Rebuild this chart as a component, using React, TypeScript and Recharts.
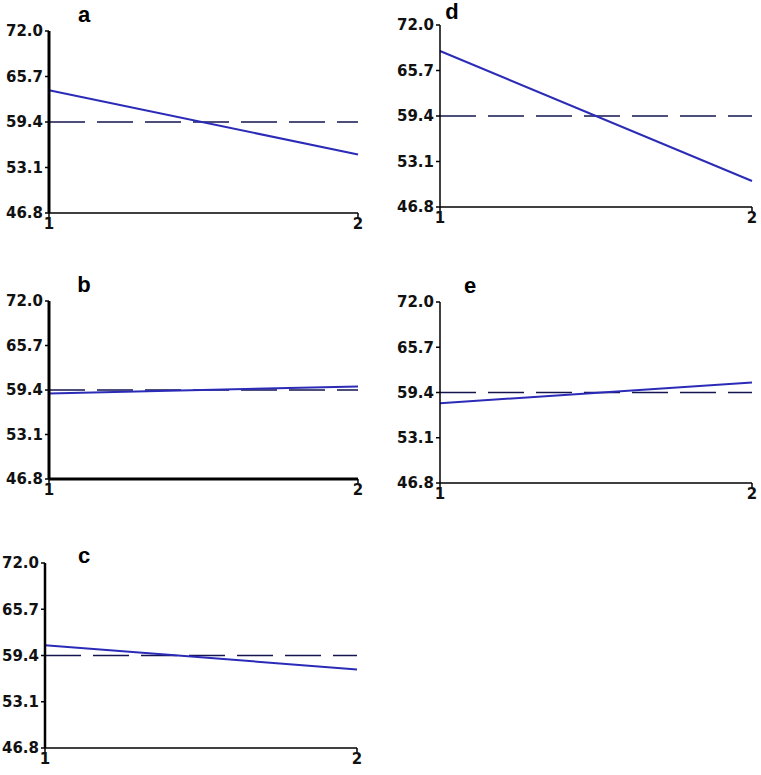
import React from 'react';
import {
  LineChart,
  Line,
  XAxis,
  YAxis,
  ReferenceLine,
} from 'recharts';

// panel data: value at time point 1 and time point 2
const panelLabels = ['a', 'b', 'c', 'd', 'e'];
const startValues = [63.8, 58.9, 60.8, 68.4, 57.9];
const endValues = [54.9, 59.9, 57.5, 50.4, 60.8];
const timePoints = [1, 2];
const yTicks = [46.8, 53.1, 59.4, 65.7, 72.0];
const referenceValue = 59.4;

// plot boxes: [left, top, width, height, yAxisStroke, xAxisStroke]
const layout: Record<string, number[]> = {
  a: [49, 31, 309, 182, 3, 1.5],
  b: [49, 301, 309, 178, 3, 3],
  c: [45, 563, 312, 185, 2.5, 1.5],
  d: [440, 25, 312, 182, 1.5, 1.5],
  e: [440, 302, 312, 181, 1.5, 1.5],
};

const letterPos: Record<string, number[]> = {
  a: [84, 15],
  b: [84, 285],
  c: [84, 556],
  d: [452, 12],
  e: [470, 286],
};

const tickStyle = {
  fontFamily: 'DejaVu Sans, sans-serif',
  fontSize: 15,
  fontWeight: 700,
  fill: '#111',
};

const AXIS_W = 49;
const TOP_PAD = 10;
const RIGHT_PAD = 9;
const X_AXIS_H = 27;

function Panel({ index }: { index: number }) {
  const label = panelLabels[index];
  const [left, top, w, h, yStroke, xStroke] = layout[label];
  const data = timePoints.map((t, i) => ({
    time: t,
    value: i === 0 ? startValues[index] : endValues[index],
  }));

  return (
    <div
      style={{
        position: 'absolute',
        left: left - AXIS_W,
        top: top - TOP_PAD,
      }}
    >
      <LineChart
        width={AXIS_W + w + RIGHT_PAD}
        height={TOP_PAD + h + X_AXIS_H}
        data={data}
        margin={{ top: TOP_PAD, right: RIGHT_PAD, bottom: 0, left: 0 }}
      >
        <XAxis
          dataKey="time"
          type="number"
          domain={[1, 2]}
          ticks={timePoints}
          height={X_AXIS_H}
          axisLine={{ stroke: '#000', strokeWidth: xStroke }}
          tickLine={{ stroke: '#000', strokeWidth: 1.5 }}
          tickSize={4}
          tickMargin={1}
          tick={tickStyle}
          interval={0}
        />
        <YAxis
          type="number"
          domain={[46.8, 72]}
          ticks={yTicks}
          width={AXIS_W}
          axisLine={{ stroke: '#000', strokeWidth: yStroke }}
          tickLine={{ stroke: '#000', strokeWidth: 1.5 }}
          tickSize={4}
          tickMargin={2}
          tick={tickStyle}
          interval={0}
          tickFormatter={(v: number) => v.toFixed(1)}
        />
        <ReferenceLine
          y={referenceValue}
          stroke="#141450"
          strokeWidth={1.5}
          strokeDasharray="36 12"
        />
        <Line
          type="linear"
          dataKey="value"
          stroke="#2b2bb8"
          strokeWidth={2}
          dot={false}
          isAnimationActive={false}
        />
      </LineChart>
    </div>
  );
}

export default function App() {
  return (
    <div
      style={{
        position: 'absolute',
        left: 0,
        top: 0,
        width: 761,
        height: 775,
        background: '#fff',
      }}
    >
      {panelLabels.map((l, i) => (
        <Panel key={l} index={i} />
      ))}
      {panelLabels.map((l) => (
        <div
          key={'lbl-' + l}
          style={{
            position: 'absolute',
            left: letterPos[l][0] - 10,
            top: letterPos[l][1] - 13,
            width: 20,
            textAlign: 'center',
            fontFamily: 'Liberation Sans, Arial, sans-serif',
            fontWeight: 700,
            fontSize: 22,
            lineHeight: '26px',
            color: '#000',
          }}
        >
          {l}
        </div>
      ))}
    </div>
  );
}
